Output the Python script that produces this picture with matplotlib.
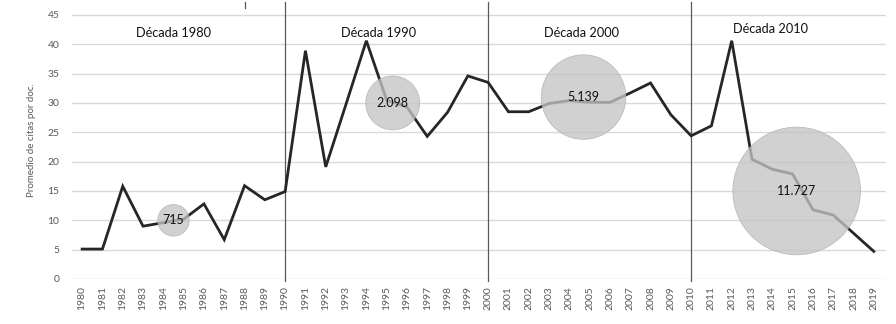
import numpy as np
import matplotlib
matplotlib.use("Agg")
import matplotlib.pyplot as plt

plt.rcParams["font.family"] = ["Lato", "DejaVu Sans"]

years = list(range(1980, 2020))
citas = [5.1, 5.1, 15.8, 9.0, 9.6, 10.2, 12.8, 6.7, 15.9, 13.5,
         14.9, 38.9, 19.1, 29.8, 40.6, 30.5, 29.3, 24.3, 28.4, 34.6,
         33.5, 28.5, 28.5, 29.9, 30.4, 30.1, 30.1, 31.7, 33.4, 28.0,
         24.4, 26.1, 40.6, 20.4, 18.7, 17.9, 11.8, 10.9, 7.8, 4.7]

# bubbles: documents per decade
bubble_x = [1984.5, 1995.3, 2004.7, 2015.2]
bubble_y = [10.0, 30.0, 31.0, 15.0]
bubble_n = [715, 2098, 5139, 11727]
bubble_lbl = ["715", "2.098", "5.139", "11.727"]

decade_lbl = ["Década 1980", "Década 1990", "Década 2000", "Década 2010"]
decade_x = [1984.5, 1994.6, 2004.6, 2013.9]
decade_y = [42.0, 42.0, 42.0, 42.6]
decade_lines = [1990, 2000, 2010]

fig = plt.figure(figsize=(8.96, 3.24), dpi=100)
ax = fig.add_axes([72 / 896, 45 / 324, 814 / 896, 277 / 324])

ax.set_xlim(1979.5, 2019.6)
ax.set_ylim(0, 47.2)
ax.set_yticks(np.arange(0, 50, 5))
ax.set_xticks(years)
ax.set_xticklabels([str(y) for y in years], rotation=90)
ax.tick_params(axis="both", length=0, colors="#595959", labelsize=7.5)
ax.tick_params(axis="y", pad=9)
ax.tick_params(axis="x", pad=5)
for s in ax.spines.values():
    s.set_visible(False)
for v in np.arange(0, 50, 5):
    ax.axhline(v, color="#d9d9d9", lw=1.0, zorder=0)

for x in decade_lines:
    ax.plot([x, x], [-0.4, 47.2], color="#595959", lw=0.9, clip_on=False, zorder=1)
# short leftover mark at the top edge
ax.plot([1988.0, 1988.0], [46.2, 47.2], color="#595959", lw=0.9, clip_on=False)

ax.plot(years, citas, color="#262626", lw=2.0, zorder=2, solid_joinstyle="miter")

sizes = [n * 0.72 for n in bubble_n]
ax.scatter(bubble_x, bubble_y, s=sizes, color="#c4c4c4", alpha=0.78,
           edgecolors="#b0b0b0", linewidths=0.6, zorder=3)
for x, y, t in zip(bubble_x, bubble_y, bubble_lbl):
    ax.text(x, y, t, ha="center", va="center", fontsize=9, color="#111111", zorder=4)

for x, y, t in zip(decade_x, decade_y, decade_lbl):
    ax.text(x, y, t, ha="center", va="center", fontsize=9.2, color="#111111")

ax.set_ylabel("Promedio de citas por doc.", color="#595959", fontsize=7, labelpad=8)

fig.savefig("out.png", dpi=100)
